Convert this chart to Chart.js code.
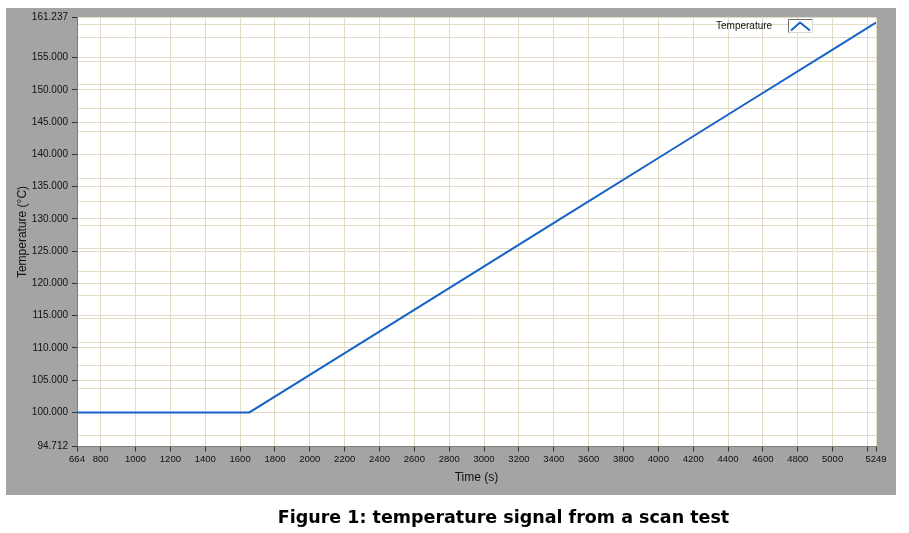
<!DOCTYPE html>
<html>
<head>
<meta charset="utf-8">
<script src="https://cdn.jsdelivr.net/npm/chart.js@4.4.1/dist/chart.umd.min.js"></script>
<style>
  html, body { margin: 0; padding: 0; background: #ffffff; overflow: hidden; }
  #wrap { position: relative; width: 909px; height: 533px; }
  #c { position: absolute; left: 0; top: 0; }
  #caption {
    position: absolute; left: 503.5px; top: 507px; transform: translateX(-50%);
    white-space: nowrap; font-family: "DejaVu Sans", Verdana, sans-serif;
    font-weight: bold; font-size: 17.5px; line-height: 21px; color: #000;
  }
</style>
</head>
<body>
<div id="wrap">
  <canvas id="c" width="909" height="533"></canvas>
  <div id="caption">Figure 1: temperature signal from a scan test</div>
</div>
<script>
// ---- data ----
const timeS = [664, 1653, 2000, 2500, 3000, 3500, 4000, 4500, 5000, 5249];
const temperatureC = [100.0, 100.0, 105.83, 114.24, 122.64, 131.05, 139.45, 147.86, 156.26, 160.45];

const xTicks = [664, 800, 1000, 1200, 1400, 1600, 1800, 2000, 2200, 2400, 2600, 2800, 3000, 3200, 3400, 3600, 3800, 4000, 4200, 4400, 4600, 4800, 5000, 5200, 5249];
const xTickLabels = ['664', '800', '1000', '1200', '1400', '1600', '1800', '2000', '2200', '2400', '2600', '2800', '3000', '3200', '3400', '3600', '3800', '4000', '4200', '4400', '4600', '4800', '5000', '', '5249'];
const yTicks = [94.712, 100, 105, 110, 115, 120, 125, 130, 135, 140, 145, 150, 155, 161.237];
const yTickLabels = ['94.712', '100.000', '105.000', '110.000', '115.000', '120.000', '125.000', '130.000', '135.000', '140.000', '145.000', '150.000', '155.000', '161.237'];
const yMinorGrid = [96.37, 103.63, 107.26, 110.89, 114.52, 118.15, 121.78, 125.41, 129.04, 132.67, 136.30, 139.93, 143.56, 147.19, 150.82, 154.45, 158.08, 160.10];

const xMin = 664, xMax = 5249, yMin = 94.712, yMax = 161.237;
const seriesName = 'Temperature';
const xTitle = 'Time (s)';
const yTitle = 'Temperature (\u00B0C)';

// ---- styling ----
const lineColor = '#1562c8';
const gridColor = '#e2dcc6';
const frameColor = '#a4a4a4';
const tickFont = 'Liberation Sans';

const framePlugin = {
  id: 'frame',
  beforeDraw(chart) {
    const ctx = chart.ctx, a = chart.chartArea;
    ctx.save();
    ctx.fillStyle = '#ffffff';
    ctx.fillRect(0, 0, chart.width, chart.height);
    ctx.fillStyle = frameColor;
    ctx.fillRect(6, 8, 890, 487);
    ctx.fillStyle = '#ffffff';
    ctx.fillRect(a.left, a.top, a.right - a.left, a.bottom - a.top);
    ctx.restore();
  }
};

const legendPlugin = {
  id: 'lvLegend',
  afterDraw(chart) {
    const ctx = chart.ctx;
    ctx.save();
    ctx.font = '10px "' + tickFont + '"';
    ctx.fillStyle = '#111';
    ctx.textAlign = 'left';
    ctx.textBaseline = 'middle';
    ctx.fillText(seriesName, 716, 26.5);
    // sunken box
    ctx.fillStyle = '#ffffff';
    ctx.fillRect(788, 19, 25, 14);
    ctx.strokeStyle = '#6e6e6e';
    ctx.lineWidth = 1;
    ctx.beginPath();
    ctx.moveTo(788.5, 33); ctx.lineTo(788.5, 19.5); ctx.lineTo(813, 19.5);
    ctx.stroke();
    ctx.strokeStyle = '#d8d8d8';
    ctx.beginPath();
    ctx.moveTo(812.5, 19.5); ctx.lineTo(812.5, 32.5); ctx.lineTo(788.5, 32.5);
    ctx.stroke();
    // icon
    ctx.strokeStyle = lineColor;
    ctx.lineWidth = 2;
    ctx.lineJoin = 'round';
    ctx.beginPath();
    ctx.moveTo(791, 30.5); ctx.lineTo(800, 22.5); ctx.lineTo(810, 30.5);
    ctx.stroke();
    ctx.restore();
  }
};

new Chart(document.getElementById('c'), {
  type: 'line',
  data: {
    datasets: [{
      label: seriesName,
      data: timeS.map((t, i) => ({ x: t, y: temperatureC[i] })),
      borderColor: lineColor,
      borderWidth: 2,
      pointRadius: 0,
      tension: 0,
      fill: false
    }]
  },
  options: {
    responsive: false,
    animation: false,
    devicePixelRatio: 1,
    layout: { padding: { top: 17.5, right: 33, left: 0, bottom: 0 } },
    plugins: { legend: { display: false }, tooltip: { enabled: false }, title: { display: false } },
    scales: {
      x: {
        type: 'linear',
        min: xMin, max: xMax,
        afterBuildTicks(scale) { scale.ticks = xTicks.map(v => ({ value: v })); },
        afterFit(scale) { scale.height = 86.5; },
        ticks: {
          autoSkip: false, maxRotation: 0, padding: 2,
          font: { family: tickFont, size: 9.5 }, color: '#111',
          callback: (v, i) => xTickLabels[i]
        },
        grid: { color: gridColor, lineWidth: 1, tickColor: '#333', tickLength: 5 },
        border: { color: '#7a7a7a', width: 1 },
        title: {
          display: true, text: xTitle, color: '#111',
          font: { family: tickFont, size: 12 },
          padding: { top: 0, bottom: 48 }
        }
      },
      y: {
        type: 'linear',
        position: 'left',
        min: yMin, max: yMax,
        afterBuildTicks(scale) { scale.ticks = yTicks.map(v => ({ value: v })); },
        afterFit(scale) { scale.width = 77; },
        ticks: {
          autoSkip: false, padding: 4,
          font: { family: tickFont, size: 10 }, color: '#111',
          callback: (v, i) => yTickLabels[i]
        },
        grid: { color: gridColor, lineWidth: 1, tickColor: '#333', tickLength: 5 },
        border: { color: '#7a7a7a', width: 1 },
        title: {
          display: true, text: yTitle, color: '#111',
          font: { family: tickFont, size: 12 },
          padding: { top: 15, bottom: 0 }
        }
      },
      y2: {
        type: 'linear',
        position: 'left',
        min: yMin, max: yMax,
        afterBuildTicks(scale) { scale.ticks = yMinorGrid.map(v => ({ value: v })); },
        afterFit(scale) { scale.width = 0; },
        ticks: { display: false },
        grid: { color: gridColor, lineWidth: 1, drawTicks: false },
        border: { display: false }
      }
    }
  },
  plugins: [framePlugin, legendPlugin]
});
</script>
</body>
</html>
